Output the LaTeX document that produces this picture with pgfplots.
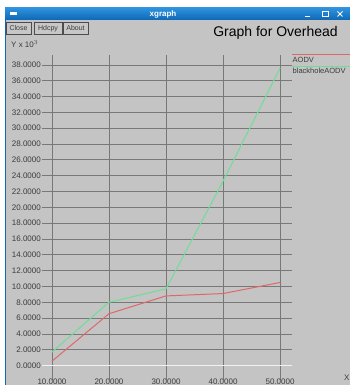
\documentclass[border=0pt]{standalone}
\usepackage{pgfplots}
\pgfplotsset{compat=1.18}
\usepackage{fontspec}
\setmainfont{Liberation Sans}
\definecolor{bg}{RGB}{196,196,196}
\definecolor{gridc}{RGB}{120,120,120}
\definecolor{barTop}{RGB}{46,146,222}
\definecolor{barBot}{RGB}{14,104,180}
\definecolor{redl}{RGB}{222,104,104}
\definecolor{greenl}{RGB}{110,222,150}
\definecolor{txt}{RGB}{60,60,60}
\begin{document}
\begin{tikzpicture}[x=1pt,y=1pt]
\useasboundingbox (0,0) rectangle (350,385);
\fill[white] (0,0) rectangle (350,385);
\fill[bg] (5,0) rectangle (350,377);
\shade[top color=barTop, bottom color=barBot] (5,365) rectangle (350,377);
\draw[barBot, line width=1pt] (5.5,0) -- (5.5,366);
\node[white, font=\bfseries\fontsize{8}{8}\selectfont] at (163,371) {xgraph};
\fill[white] (10,369.5) rectangle (17,373);
% window controls
\draw[white, line width=1pt] (305,368.5) -- (310,368.5);
\draw[white, line width=0.8pt] (322,368.5) rectangle (328,373.5);
\draw[white, line width=1pt] (337.5,368.5) -- (342.5,373.5) (337.5,373.5) -- (342.5,368.5);
% buttons
\foreach \a/\b/\t in {6/31/Close,34/62/Hdcpy,63/88/About}{
  \draw[gray!60!black, fill=bg!95!white, line width=0.7pt] (\a,351) rectangle (\b,363);
  \node[font=\fontsize{7}{7}\selectfont, text=txt, inner sep=0pt, anchor=base] at ({(\a+\b)/2},354.5) {\t};
}
\node[anchor=east, font=\fontsize{14}{14}\selectfont, inner sep=0pt] at (338,352) {Graph for Overhead};
\node[anchor=west, font=\fontsize{8}{8}\selectfont, text=txt, inner sep=0pt] at (11,341) {Y x 10$^{3}$};
\begin{axis}[
  at={(42pt,5pt)}, anchor=south west,
  scale only axis, width=250pt, height=325pt,
  xmin=8.25, xmax=52.1, ymin=-1.83, ymax=39.26,
  axis line style={draw=none},
  xtick={10,20,30,40,50}, ytick={0,2,...,38},
  major tick length=0pt,
  grid=major,
  major grid style={gridc, line width=0.75pt},
  /pgf/number format/assume math mode=true,
  /pgf/number format/.cd, fixed, fixed zerofill, precision=4, 1000 sep={},
  /pgfplots/.cd,
  tick label style={font=\fontsize{8}{8}\selectfont, text=txt},
  yticklabel style={anchor=east, inner sep=1pt},
  xticklabel style={anchor=north, inner sep=0pt, yshift=1.2pt},
  clip=false,
]
\draw[white!90!gray, line width=1pt] (axis cs:8.25,0) -- (axis cs:52.1,0);
\addplot[redl, line width=1pt, mark=none] coordinates {(10,0.55) (20,6.55) (30,8.8) (40,9.1) (50,10.5)};
\addplot[greenl, line width=1pt, mark=none] coordinates {(10,1.7) (20,8.0) (30,9.7) (40,23.3) (50,37.6)};
\end{axis}
% legend
\draw[redl, line width=1pt] (292,330) -- (350,330);
\node[anchor=west, font=\fontsize{7.5}{7.5}\selectfont, inner sep=0pt, text=txt] at (292.5,325.5) {AODV};
\draw[greenl, line width=1pt] (292,318.5) -- (350,318.5);
\node[anchor=west, font=\fontsize{7.5}{7.5}\selectfont, inner sep=0pt, text=txt] at (292.5,314) {blackholeAODV};
\node[anchor=west, font=\fontsize{8}{8}\selectfont, inner sep=0pt, text=txt] at (344,7) {X};
\end{tikzpicture}
\end{document}
